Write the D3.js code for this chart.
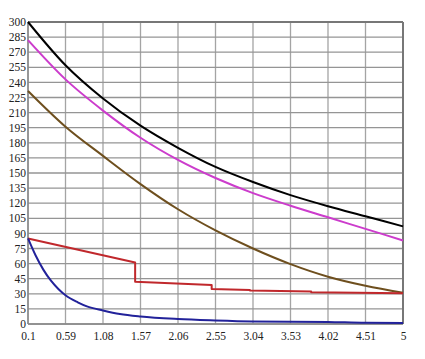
<!DOCTYPE html>
<html><head><meta charset="utf-8">
<script src="https://cdn.jsdelivr.net/npm/d3@7"></script>
<style>html,body{margin:0;padding:0;background:#fff;}svg{display:block;}</style>
</head><body>
<script>
const xTicks = [0.1, 0.59, 1.08, 1.57, 2.06, 2.55, 3.04, 3.53, 4.02, 4.51, 5];
const yTicks = d3.range(0, 301, 15);

const blackX = [0.1, 0.59, 1.08, 1.57, 2.06, 2.55, 3.04, 3.53, 4.02, 4.51, 5];
const blackY = [300, 257, 224, 197, 175, 156, 141, 128, 117, 107, 97];

const magentaX = [0.1, 0.59, 1.08, 1.57, 2.06, 2.55, 3.04, 3.53, 4.02, 4.51, 5];
const magentaY = [282, 243, 212, 185, 163, 145, 130, 117.5, 106, 94.5, 83];

const brownX = [0.1, 0.59, 1.08, 1.57, 2.06, 2.55, 3.04, 3.53, 4.02, 4.51, 5];
const brownY = [231.5, 196, 167, 139, 114, 93, 75, 59.5, 47, 38, 31];

const redX = [0.1, 1.5, 1.5, 2.5, 2.5, 3.0, 3.0, 3.8, 3.8, 5];
const redY = [85, 61, 42, 38.7, 34.8, 33.8, 33.3, 32.3, 31.6, 30.5];

const blueX = [0.1, 0.2, 0.3, 0.4, 0.5, 0.59, 0.75, 0.87, 1.08, 1.3, 1.57, 2.06, 2.55, 3.04, 4.02, 4.51, 5];
const blueY = [85, 68, 54, 43, 34.5, 28.5, 21.5, 17.5, 13.5, 10, 7.5, 5, 3.6, 2.6, 2, 1.2, 1];

const W = 425, H = 359;
const m = {l: 28, r: 22, t: 22, b: 35};
const svg = d3.select("body").append("svg").attr("width", W).attr("height", H);

const x = d3.scaleLinear().domain([0.1, 5]).range([m.l, W - m.r]);
const y = d3.scaleLinear().domain([0, 300]).range([H - m.b, m.t]);

// grid
svg.append("g").selectAll("line").data(xTicks).join("line")
  .attr("x1", d => x(d)).attr("x2", d => x(d))
  .attr("y1", y(300)).attr("y2", y(0))
  .attr("stroke", "#a4a4a4").attr("stroke-width", 1.3);
svg.append("g").selectAll("line").data(yTicks).join("line")
  .attr("x1", x(0.1)).attr("x2", x(5))
  .attr("y1", d => y(d)).attr("y2", d => y(d))
  .attr("stroke", "#959595").attr("stroke-width", 1.3);

// border
svg.append("line").attr("x1", x(0.1)).attr("x2", x(5)).attr("y1", y(300)).attr("y2", y(300)).attr("stroke", "#777").attr("stroke-width", 2);
svg.append("line").attr("x1", x(5)).attr("x2", x(5)).attr("y1", y(300)).attr("y2", y(0)).attr("stroke", "#777").attr("stroke-width", 2);
svg.append("line").attr("x1", x(0.1)).attr("x2", x(0.1)).attr("y1", y(300)).attr("y2", y(0)).attr("stroke", "#888").attr("stroke-width", 1.5);
svg.append("line").attr("x1", x(0.1)).attr("x2", x(5)).attr("y1", y(0)).attr("y2", y(0)).attr("stroke", "#888").attr("stroke-width", 1.5);

// axes labels
const font = "'Liberation Serif', 'Times New Roman', serif";
const yAxis = d3.axisLeft(y).tickValues(yTicks).tickSize(0).tickPadding(2);
const gy = svg.append("g").attr("transform", `translate(${m.l},0)`).call(yAxis);
gy.select(".domain").remove();
gy.selectAll("text").attr("font-family", font).attr("font-size", 11.5).attr("fill", "#222");

const xAxis = d3.axisBottom(x).tickValues(xTicks).tickFormat(d => String(d)).tickSize(0).tickPadding(8);
const gx = svg.append("g").attr("transform", `translate(0,${H - m.b})`).call(xAxis);
gx.select(".domain").remove();
gx.selectAll("text").attr("font-family", font).attr("font-size", 11.5).attr("fill", "#222");

function draw(xs, ys, color, curve) {
  const pts = xs.map((v, i) => [v, ys[i]]);
  svg.append("path").datum(pts)
    .attr("d", d3.line().x(d => x(d[0])).y(d => y(d[1])).curve(curve))
    .attr("fill", "none").attr("stroke", color).attr("stroke-width", 2)
    .attr("stroke-linejoin", "round");
}
draw(brownX, brownY, "#6e4f1e", d3.curveMonotoneX);
draw(redX, redY, "#c0282c", d3.curveLinear);
draw(blueX, blueY, "#22229a", d3.curveMonotoneX);
draw(magentaX, magentaY, "#cc3ccc", d3.curveMonotoneX);
draw(blackX, blackY, "#000000", d3.curveMonotoneX);
</script>
</body></html>
